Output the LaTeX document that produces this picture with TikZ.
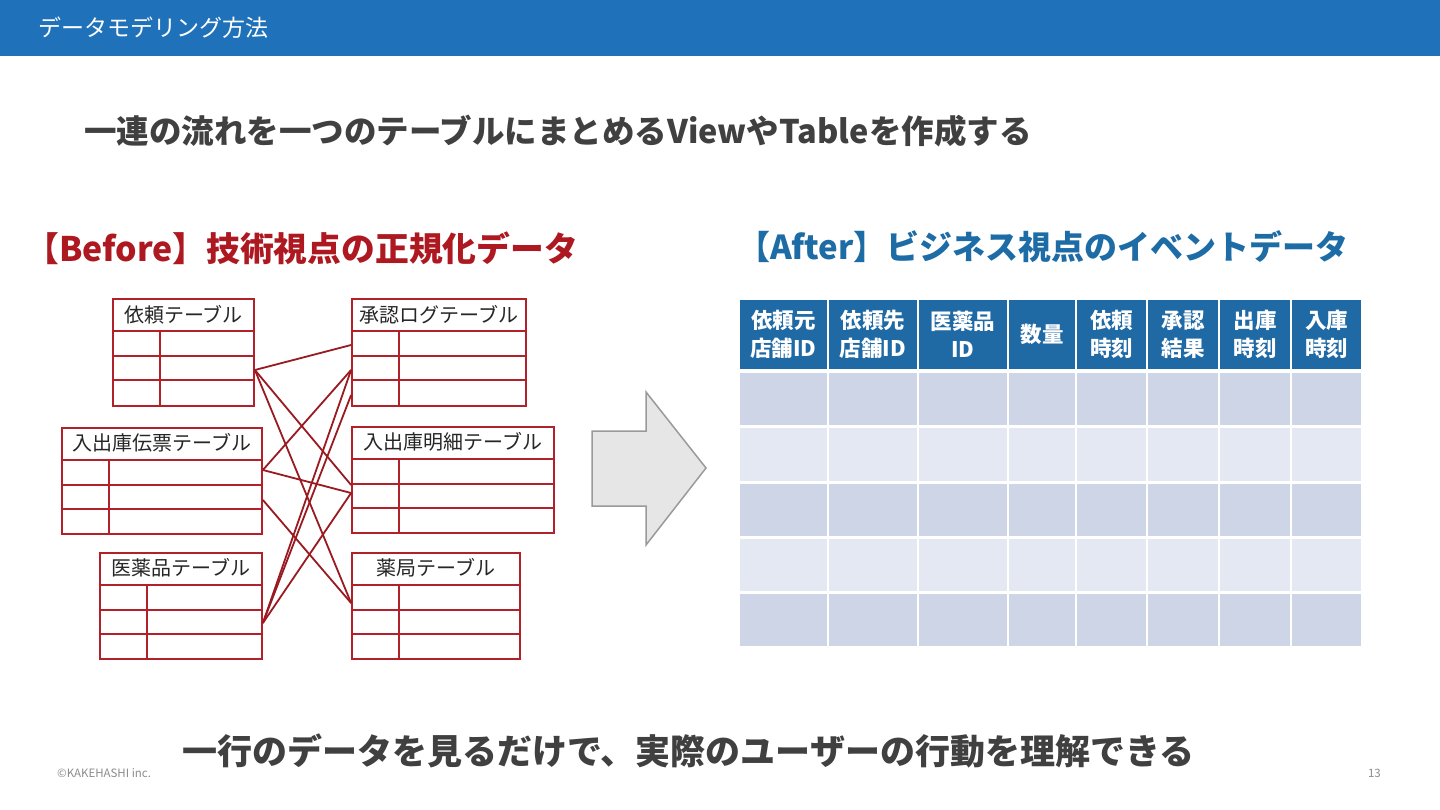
\documentclass[tikz,border=0pt]{standalone}
\usepackage{fontspec}
\setmainfont{Noto Sans CJK JP}
\usepackage{tikz}
\usetikzlibrary{positioning, calc}
\definecolor{barblue}{HTML}{1F72BA}
\definecolor{textgray}{HTML}{404040}
\definecolor{beforered}{HTML}{AE1820}
\definecolor{tblred}{HTML}{B2202A}
\definecolor{linkred}{HTML}{9A1A22}
\definecolor{afterblue}{HTML}{1D6CA6}
\definecolor{headblue}{HTML}{1F69A5}
\definecolor{rowdark}{HTML}{CED5E6}
\definecolor{rowlight}{HTML}{E4E8F2}
\definecolor{arrowfill}{HTML}{E6E6E6}
\definecolor{arrowdraw}{HTML}{9A9A9A}
\newcommand{\fsz}[1]{\fontsize{#1}{#1}\selectfont}
% grid inside one normalized table (header + 3 rows, key column)
\newcommand{\tblgrid}[1]{%
  \draw[tblline] ([yshift=-33pt]#1.north west) -- ([yshift=-33pt]#1.north east);
  \draw[tblline] ([yshift=-58pt]#1.north west) -- ([yshift=-58pt]#1.north east);
  \draw[tblline] ([yshift=-82pt]#1.north west) -- ([yshift=-82pt]#1.north east);
  \draw[tblline] ([xshift=48pt, yshift=-33pt]#1.north west) -- ([xshift=48pt]#1.south west);
}

\begin{document}
\begin{tikzpicture}[
  x=1pt, y=-1pt,
  tbl/.style={draw=tblred, line width=1.8pt, inner sep=0pt, minimum height=107pt},
  tblline/.style={draw=tblred, line width=1.8pt},
  tbltitle/.style={font=\fsz{20}, text=black!85, inner sep=0pt},
  link/.style={draw=linkred, line width=1.8pt},
  headcell/.style={fill=headblue, text=white, inner sep=0pt, minimum height=69pt,
    align=center, font=\bfseries\fontsize{21.5}{28}\selectfont},
]
\useasboundingbox (0,0) rectangle (1440,810);
\fill[white] (0,0) rectangle (1440,810);

% ===== Title bar =====
\fill[barblue] (0,0) rectangle (1440,56);
\node[anchor=west, inner sep=0pt, text=white, font=\fsz{23}] (title) at (38,28)
  {データモデリング方法};

\node[anchor=west, inner sep=0pt, text=textgray, font=\bfseries\fsz{32.5}] (lead) at (84,131)
  {一連の流れを一つのテーブルにまとめるViewやTableを作成する};

% ===== LEFT: Before =====
\node[anchor=west, inner sep=0pt, text=beforered, font=\bfseries\fsz{33.8}] (before) at (25,248)
  {【Before】技術視点の正規化データ};

\node[tbl, minimum width=141pt] (irai) at (183.5,352.5) {};
\node[tbl, minimum width=174pt] (shonin) at (439,352.5) {};
\node[tbl, minimum width=200pt, minimum height=106pt] (denpyo) at (162,481) {};
\node[tbl, minimum width=202pt, minimum height=106pt] (meisai) at (453,480) {};
\node[tbl, minimum width=162pt, minimum height=106pt] (iyaku) at (181,606) {};
\node[tbl, minimum width=168pt, minimum height=106pt] (yakkyoku) at (436,606) {};

\tblgrid{irai}
\tblgrid{shonin}
\tblgrid{denpyo}
\tblgrid{meisai}
\tblgrid{iyaku}
\tblgrid{yakkyoku}

\node[tbltitle] (irai-t) at ([yshift=-17pt]irai.north) {依頼テーブル};
\node[tbltitle] (shonin-t) at ([yshift=-17pt]shonin.north) {承認ログテーブル};
\node[tbltitle] (denpyo-t) at ([yshift=-16pt]denpyo.north) {入出庫伝票テーブル};
\node[tbltitle] (meisai-t) at ([yshift=-16pt]meisai.north) {入出庫明細テーブル};
\node[tbltitle] (iyaku-t) at ([yshift=-16pt]iyaku.north) {医薬品テーブル};
\node[tbltitle] (yakkyoku-t) at ([yshift=-16pt]yakkyoku.north) {薬局テーブル};

% relations
\draw[link] ([yshift=-17.5pt]irai.east) -- ([yshift=7.5pt]shonin.west);
\draw[link] ([yshift=-17.5pt]irai.east) -- ([yshift=-5pt]meisai.west);
\draw[link] ([yshift=-17.5pt]irai.east) -- ([yshift=3pt]yakkyoku.west);
\draw[link] ([yshift=11pt]denpyo.east) -- ([yshift=-17.5pt]shonin.west);
\draw[link] ([yshift=11pt]denpyo.east) -- ([yshift=-13pt]meisai.west);
\draw[link] ([yshift=-19pt]denpyo.east) -- ([yshift=3pt]yakkyoku.west);
\draw[link] ([yshift=-17pt]iyaku.east) -- ([yshift=-17.5pt]shonin.west);
\draw[link] ([yshift=-17pt]iyaku.east) -- ([yshift=-42.5pt]shonin.west);
\draw[link] ([yshift=-17pt]iyaku.east) -- ([yshift=-13pt]meisai.west);

% ===== Arrow =====
\draw[fill=arrowfill, draw=arrowdraw, line width=1.5pt, line join=miter]
  (592,431) -- (646,431) -- (646,392) -- (706,468) -- (646,545)
  -- (646,506) -- (592,506) -- cycle;

% ===== RIGHT: After =====
\node[anchor=west, inner sep=0pt, text=afterblue, font=\bfseries\fsz{33}] (after) at (737,247)
  {【After】ビジネス視点のイベントデータ};

\node[headcell, minimum width=87pt] (h1) at (783.5,334.5) {依頼元\\店舗ID};
\node[headcell, minimum width=88pt] (h2) at (873,334.5) {依頼先\\店舗ID};
\node[headcell, minimum width=88pt] (h3) at (963,334.5) {医薬品\\ID};
\node[headcell, minimum width=66pt] (h4) at (1042,334.5) {数量};
\node[headcell, minimum width=69pt] (h5) at (1111.5,334.5) {依頼\\時刻};
\node[headcell, minimum width=70pt] (h6) at (1183,334.5) {承認\\結果};
\node[headcell, minimum width=70pt] (h7) at (1255,334.5) {出庫\\時刻};
\node[headcell, minimum width=69pt] (h8) at (1326.5,334.5) {入庫\\時刻};

% event rows
\foreach \xa/\xb in {739/828, 828/918, 918/1008, 1008/1076, 1076/1147,
                     1147/1219, 1219/1291, 1291/1362} {
  \foreach \ya/\yb/\rc in {373/425/rowdark, 428/481/rowlight, 484/536/rowdark,
                           539/591/rowlight, 594/646/rowdark} {
    \fill[\rc] (\xa+1,\ya) rectangle (\xb-1,\yb);
  }
}

% ===== Bottom =====
\node[anchor=west, inner sep=0pt, text=textgray, font=\bfseries\fsz{35}] (summary) at (182,751)
  {一行のデータを見るだけで、実際のユーザーの行動を理解できる};
\node[anchor=west, inner sep=0pt, text=black!45, font=\fsz{11.5}] (copy) at (57,773)
  {©KAKEHASHI inc.};
\node[anchor=east, inner sep=0pt, text=black!45, font=\fsz{11.5}] (page) at (1381,773) {13};

\end{tikzpicture}
\end{document}
